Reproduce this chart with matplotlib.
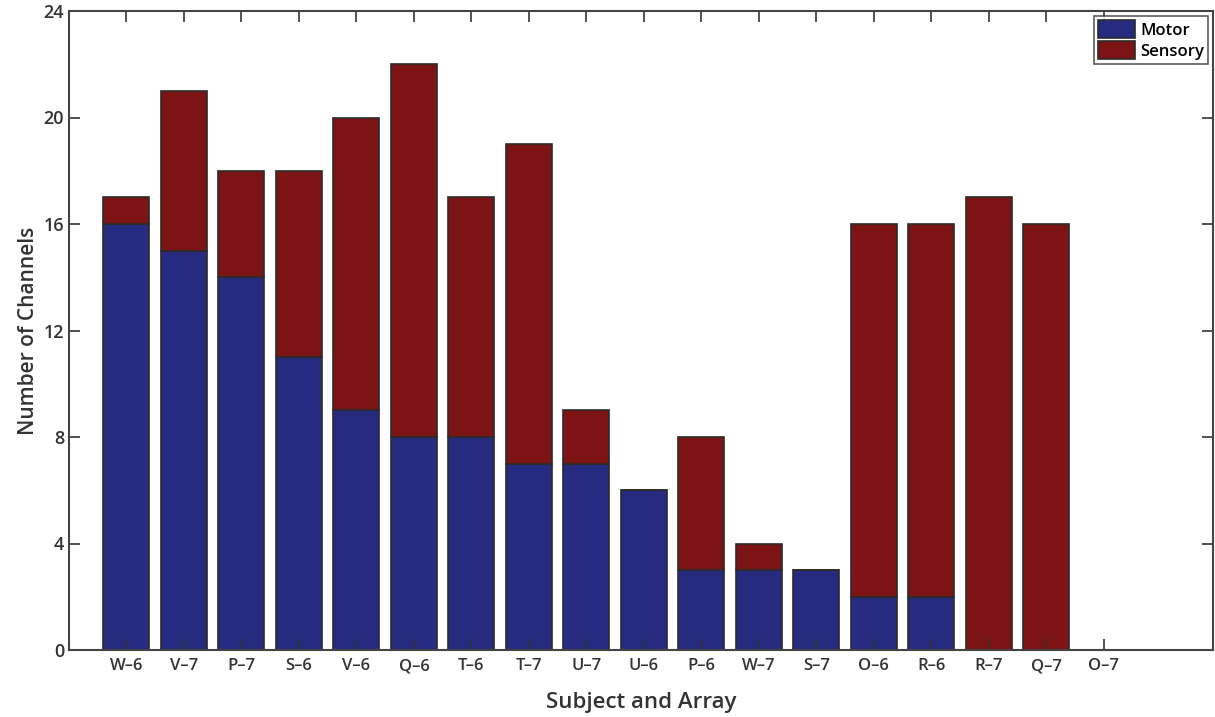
import matplotlib
matplotlib.use("Agg")
import matplotlib.pyplot as plt
import numpy as np

plt.rcParams['font.family'] = ['Open Sans', 'DejaVu Sans']
plt.rcParams['font.weight'] = 'semibold'
plt.rcParams['axes.labelweight'] = 'semibold'

labels = ["W\u20136", "V\u20137", "P\u20137", "S\u20136", "V\u20136", "Q\u20136", "T\u20136", "T\u20137", "U\u20137",
          "U\u20136", "P\u20136", "W\u20137", "S\u20137", "O\u20136", "R\u20136", "R\u20137", "Q\u20137", "O\u20137"]
motor = [16, 15, 14, 11, 9, 8, 8, 7, 7, 6, 3, 3, 3, 2, 2, 0, 0, 0]
sensory = [1, 6, 4, 7, 11, 14, 9, 12, 2, 0, 5, 1, 0, 14, 14, 17, 16, 0]

blue = "#262b80"
red = "#7c1416"
edge = "#2b2b2b"
txt = "#333333"

fig = plt.figure(figsize=(12.15, 7.17), dpi=100)
ax = fig.add_axes([69 / 1215, 1 - 650 / 717, (1213 - 69) / 1215, (650 - 11) / 717])

x = np.arange(1, len(labels) + 1)
m = np.array(motor)
s = np.array(sensory)
ax.bar(x, m, width=0.8, color=blue, edgecolor=edge, linewidth=1.2, label="Motor")
ax.bar(x, s, width=0.8, bottom=m, color=red, edgecolor=edge, linewidth=1.2, label="Sensory")

ax.set_xlim(0, 19.9)
ax.set_ylim(0, 24)
ax.set_xticks(x)
ax.set_xticklabels(labels, fontsize=12, color=txt)
ax.set_yticks(np.arange(0, 25, 4))
ax.tick_params(axis="y", labelsize=13, labelcolor=txt)
ax.tick_params(direction="in", top=True, right=True, length=8, width=1.2, color="#333333")
ax.tick_params(axis="x", pad=6)
for sp in ax.spines.values():
    sp.set_color("#444444")
    sp.set_linewidth(1.5)

ax.set_xlabel("Subject and Array", fontsize=16, color=txt, labelpad=13)
ax.set_ylabel("Number of Channels", fontsize=15, color=txt, labelpad=3)

leg = ax.legend(loc="upper right", fontsize=12, frameon=True, fancybox=False,
                borderpad=0.25, handlelength=2.2, handleheight=1.3, handletextpad=0.3,
                labelspacing=0.15, borderaxespad=0.3)
leg.get_frame().set_edgecolor("#333333")
leg.get_frame().set_linewidth(1.2)

fig.savefig("out.png", dpi=100)
